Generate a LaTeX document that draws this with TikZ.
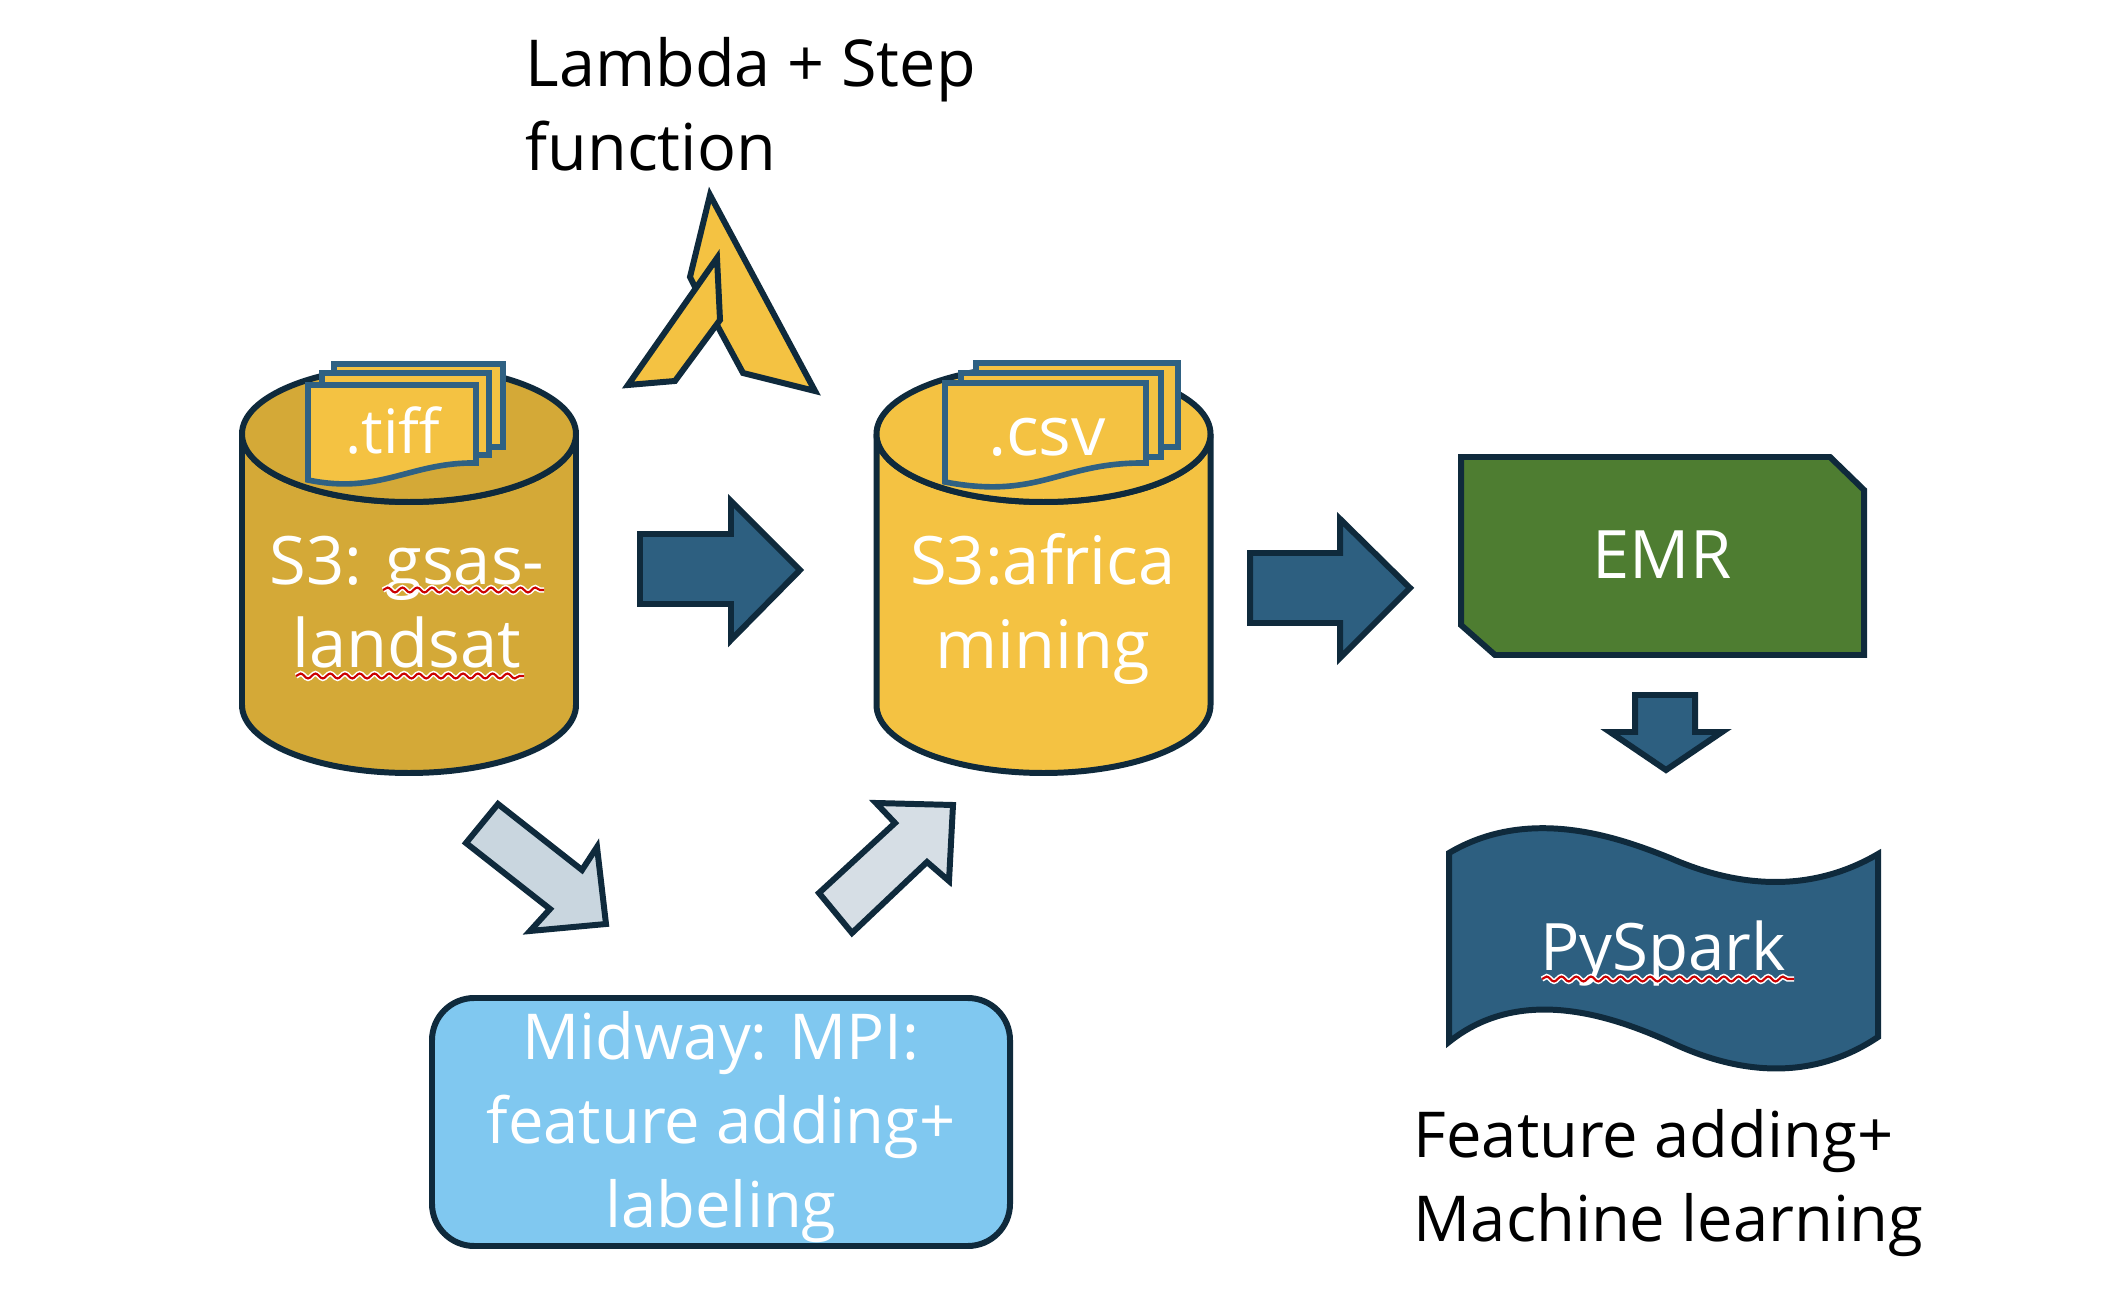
\documentclass[tikz,border=0pt]{standalone}
\usepackage{fontspec}
\setmainfont{Open Sans}
\usetikzlibrary{decorations.pathmorphing}
\definecolor{inkdark}{HTML}{0F2A3C}
\definecolor{sheetblue}{HTML}{2F6183}
\definecolor{arrowblue}{HTML}{2D5F80}
\definecolor{goldA}{HTML}{D4A937}
\definecolor{goldB}{HTML}{F4C242}
\definecolor{skyblue}{HTML}{80C8F0}
\definecolor{emrgreen}{HTML}{4E7D31}
\definecolor{paleA}{HTML}{C9D6DF}
\definecolor{paleB}{HTML}{D6DEE5}
\begin{document}
\begin{tikzpicture}[
  x=0.01cm, y=-0.01cm,
  outline/.style={draw=inkdark, line width=1.7pt, line join=miter},
  sheet/.style={draw=sheetblue, line width=1.6pt, fill=goldB},
  whitetext/.style={text=white, align=center, inner sep=0pt, font=\fontsize{18}{23.8}\selectfont},
  blacktext/.style={text=black, align=left, inner sep=0pt, font=\fontsize{18}{23.8}\selectfont},
  bigtext/.style={font=\fontsize{19}{23.8}\selectfont},
  squiggle/.style={draw=red!80!black, line width=0.6pt, preaction={draw=white, line width=1.5pt},
    decorate, decoration={snake, amplitude=0.7pt, segment length=4.2pt}}
]
\useasboundingbox (0,0) rectangle (2106,1304);

% buckets
\foreach \cx/\col in {409/goldA, 1043.5/goldB} {
  \draw[outline, fill=\col] (\cx-167,434) arc[start angle=180, end angle=360, x radius=167, y radius=-68]
    -- (\cx+167,705) arc[start angle=0, end angle=180, x radius=167, y radius=68] -- cycle;
  \draw[outline, fill=\col] (\cx,434) ellipse[x radius=167, y radius=68];
}

% file stacks
\draw[sheet] (334,364) rectangle (503,447);
\draw[sheet] (322,373) rectangle (489,455);
\draw[sheet] (308,385) -- (476,385) -- (476,463) .. controls (410,462) and (380,495) .. (308,480) -- cycle;
\draw[sheet] (976,363) rectangle (1178,447);
\draw[sheet] (961,373) rectangle (1161,457);
\draw[sheet] (945,383) -- (1146,383) -- (1146,463) .. controls (1060,462) and (1040,500) .. (945,482) -- cycle;

% lambda
\draw[outline, fill=goldB] (710,195) -- (815,391) -- (743,373) -- (717,325) -- (699,295) -- (690,277) -- cycle;
\draw[outline, fill=goldB] (717,258) -- (720,320) -- (675,381) -- (628,385) -- cycle;

% arrows
\draw[outline, fill=arrowblue] (640,534) -- (731,534) -- (731,501) -- (800,570) -- (731,640) -- (731,604) -- (640,604) -- cycle;
\draw[outline, fill=arrowblue] (1250,553) -- (1340,553) -- (1340,519) -- (1410,588) -- (1340,658) -- (1340,623) -- (1250,623) -- cycle;
\draw[outline, fill=arrowblue] (1635,695) -- (1695,695) -- (1695,732) -- (1722,732) -- (1666,770) -- (1610,732) -- (1635,732) -- cycle;
\draw[outline, fill=paleA] (498,804) -- (466,843) -- (550,909) -- (530,931) -- (606,924) -- (597,847) -- (582,870) -- cycle;
\draw[outline, fill=paleB] (819,893) -- (852,933) -- (927,862) -- (949,881) -- (953,805) -- (876,803) -- (895,823) -- cycle;

% boxes
\draw[outline, fill=emrgreen] (1461,457) -- (1830,457) -- (1864,490) -- (1864,655) -- (1495,655) -- (1461,625) -- cycle;
\draw[outline, fill=skyblue, rounded corners=12pt] (432,998) rectangle (1010,1246);
\draw[outline, fill=arrowblue] (1449,853) .. controls (1530,805) and (1620,838) .. (1670,858)
  .. controls (1750,893) and (1820,888) .. (1878,854) -- (1878,1037)
  .. controls (1820,1076) and (1750,1080) .. (1670,1042)
  .. controls (1610,1015) and (1520,985) .. (1449,1042) -- cycle;

% labels
\node[blacktext, font=\fontsize{18.4}{23.8}\selectfont] (lambdatext) at (525,104) [anchor=west] {Lambda + Step\\function};
\node[whitetext, font=\fontsize{17.4}{23.8}\selectfont] (tifftext) at (393,431) {.tiff};
\node[whitetext, font=\fontsize{19.5}{23.8}\selectfont] (csvtext) at (1047,437) {.csv};
\node[whitetext, bigtext] (gsastext) at (407,602) {S3: gsas-\\landsat};
\node[whitetext, bigtext] (africatext) at (1043,609) {S3:africa\\mining};
\node[whitetext, bigtext] (emrtext) at (1662,555) {EMR};
\node[whitetext, font=\fontsize{18.6}{23.8}\selectfont] (pysparktext) at (1663,954) {PySpark};
\node[whitetext] (midwaytext) at (721,1127) {Midway: MPI:\\feature adding+\\labeling};
\node[blacktext] (featuretext) at (1413,1183) [anchor=west] {Feature adding+\\Machine learning};

% spell check marks
\draw[squiggle] (383,590) -- (544,590);
\draw[squiggle] (296,676) -- (524,676);
\draw[squiggle] (1542,979) -- (1794,979);
\end{tikzpicture}
\end{document}
